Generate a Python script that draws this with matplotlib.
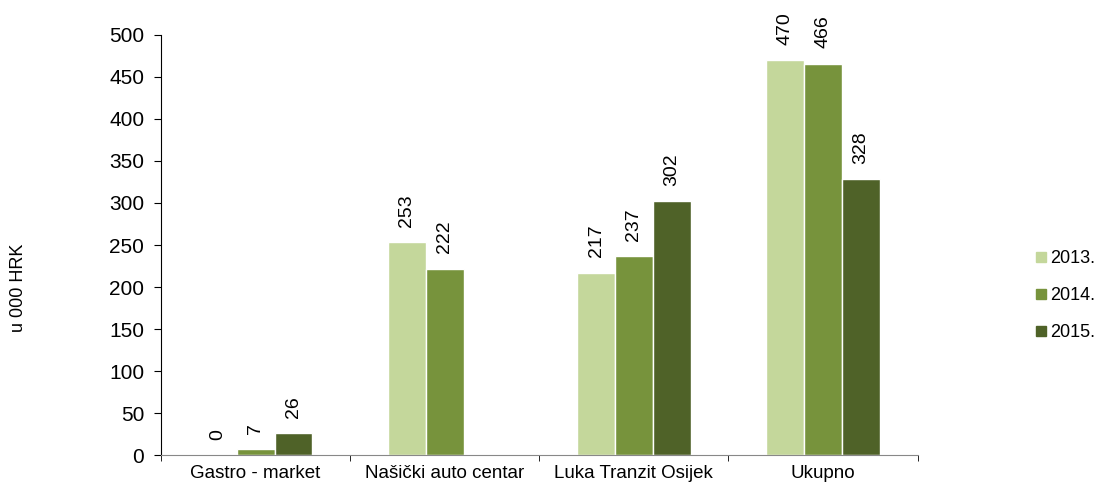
import numpy as np
import matplotlib.pyplot as plt
from matplotlib.lines import Line2D

plt.rcParams['font.family'] = ['Liberation Sans', 'DejaVu Sans']

categories = ['Gastro - market', 'Našički auto centar', 'Luka Tranzit Osijek', 'Ukupno']
years = ['2013.', '2014.', '2015.']
values_2013 = [0, 253, 217, 470]
values_2014 = [7, 222, 237, 466]
values_2015 = [26, None, 302, 328]
colors = ['#c4d79b', '#77933c', '#4f6228']

series = [values_2013, values_2014, values_2015]

fig = plt.figure(figsize=(10.99, 4.88), dpi=100)
ax = fig.add_axes([0.1465, 0.0676, 0.6885, 0.8607])

x = np.arange(len(categories))
width = 0.2
for i, (vals, color) in enumerate(zip(series, colors)):
    pos = x + (i - 1) * width
    for p, v in zip(pos, vals):
        if v is None:
            continue
        ax.bar(p, v, width, color=color, edgecolor='white', linewidth=1)
        ax.annotate(str(v), (p, v), xytext=(0, 11), textcoords='offset points',
                    rotation=90, ha='center', va='bottom', fontsize=14)

ax.set_xlim(-0.5, len(categories) - 0.5)
ax.set_ylim(0, 500)
ax.set_yticks(np.arange(0, 501, 50))
ax.tick_params(axis='y', labelsize=15, direction='out', length=5, pad=7)
ax.set_xticks(x)
ax.set_xticklabels(categories, fontsize=13.5)
ax.tick_params(axis='x', length=0, pad=7)
ax.set_xticks(np.arange(-0.5, len(categories), 1), minor=True)
ax.tick_params(axis='x', which='minor', length=4, direction='out')
for s in ['top', 'right']:
    ax.spines[s].set_visible(False)
ax.spines['left'].set_color('black')
ax.spines['bottom'].set_color('#888888')

fig.text(0.017, 0.41, 'u 000 HRK', rotation=90, ha='center', va='center', fontsize=13)

handles = [Line2D([], [], marker='s', linestyle='', color=c, markersize=7.5) for c in colors]
fig.legend(handles, years, loc='center left', bbox_to_anchor=(0.926, 0.394), frameon=False,
           fontsize=13, handletextpad=0.1, labelspacing=1.1, handlelength=0.8)

fig.savefig('out.png', dpi=100)
